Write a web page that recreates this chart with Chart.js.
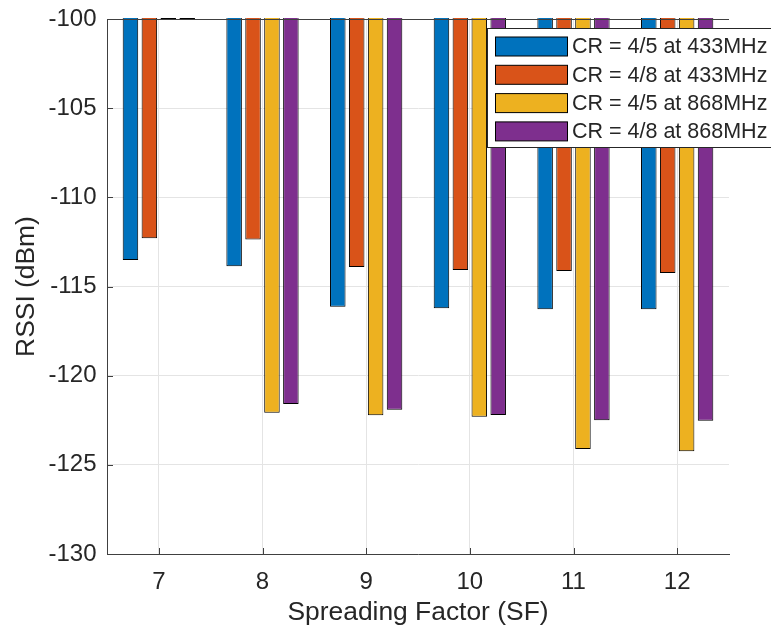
<!DOCTYPE html>
<html>
<head>
<meta charset="utf-8">
<script src="https://cdn.jsdelivr.net/npm/chart.js@4/dist/chart.umd.min.js"></script>
<style>
  html, body { margin: 0; padding: 0; background: #ffffff; }
  #wrap { width: 771px; height: 627px; }
</style>
</head>
<body>
<div id="wrap"><canvas id="rssi" width="771" height="627"></canvas></div>
<script>
// Spreading factors on the x axis
const spreadingFactors = ['7', '8', '9', '10', '11', '12'];

// Measured RSSI (dBm) per coding rate and carrier frequency
const cr45at433 = [-113.52, -113.86, -116.13, -116.22, -116.27, -116.27];
const cr48at433 = [-112.29, -112.37, -113.90, -114.07, -114.13, -114.24];
const cr45at868 = [-100.00, -122.08, -122.22, -122.30, -124.11, -124.24];
const cr48at868 = [-100.00, -121.59, -121.91, -122.20, -122.50, -122.53];

const seriesLabels = [
  'CR = 4/5 at 433MHz',
  'CR = 4/8 at 433MHz',
  'CR = 4/5 at 868MHz',
  'CR = 4/8 at 868MHz'
];
const seriesColors = ['#0072BD', '#D95319', '#EDB120', '#7E2F8E'];

// Axis range and tick spacing
const yMin = -130;
const yMax = -100;
const yStep = 5;

const FONT = "'Liberation Sans', Arial, Helvetica, sans-serif";
const AXIS_COLOR = '#404040';
const TEXT_COLOR = '#262626';
const GRID_COLOR = '#e4e4e4';

const seriesValues = [cr45at433, cr48at433, cr45at868, cr48at868];

const datasets = seriesValues.map((vals, i) => ({
  label: seriesLabels[i],
  data: vals,
  backgroundColor: seriesColors[i],
  borderColor: '#000000',
  borderWidth: 1,
  base: 0,               // bars hang from zero and are cut off by the plot box
  clip: { left: 0, right: 0, top: 1, bottom: 0 },
  categoryPercentage: 0.73,
  barPercentage: 0.82
}));

// Inward tick marks plus the top edge of the plot box
const boxTicks = {
  id: 'boxTicks',
  afterDraw(chart) {
    const { ctx, chartArea } = chart;
    const xs = chart.scales.x, ys = chart.scales.y;
    const len = 6;
    ctx.save();
    ctx.strokeStyle = AXIS_COLOR;
    ctx.lineWidth = 1;
    ctx.beginPath();
    ys.ticks.forEach((t, i) => {
      const y = Math.round(ys.getPixelForTick(i)) + 0.5;
      ctx.moveTo(chartArea.left, y);
      ctx.lineTo(chartArea.left + len, y);
    });
    xs.ticks.forEach((t, i) => {
      const x = Math.round(xs.getPixelForTick(i)) + 0.5;
      ctx.moveTo(x, chartArea.bottom);
      ctx.lineTo(x, chartArea.bottom - len);
    });
    const top = Math.round(chartArea.top) + 0.5;
    ctx.moveTo(chartArea.left, top);
    ctx.lineTo(chartArea.right, top);
    ctx.stroke();
    ctx.restore();
  }
};

// Boxed legend inside the upper right of the plot
const boxLegend = {
  id: 'boxLegend',
  afterDraw(chart) {
    const { ctx } = chart;
    const left = 487.5, top = 28.5, width = 320, height = 119;
    const rowY0 = 46.5, rowGap = 28.3;
    ctx.save();
    ctx.fillStyle = '#ffffff';
    ctx.fillRect(left, top, width, height);
    ctx.strokeStyle = TEXT_COLOR;
    ctx.lineWidth = 1;
    ctx.strokeRect(left, top, width, height);
    ctx.font = '21.5px ' + FONT;
    ctx.textBaseline = 'middle';
    ctx.textAlign = 'left';
    chart.data.datasets.forEach((ds, i) => {
      const cy = rowY0 + i * rowGap;
      ctx.fillStyle = ds.backgroundColor;
      ctx.fillRect(495.5, cy - 9.5, 72, 19);
      ctx.strokeStyle = '#000000';
      ctx.strokeRect(495.5, cy - 9.5, 72, 19);
      ctx.fillStyle = TEXT_COLOR;
      ctx.fillText(ds.label, 572, cy + 1);
    });
    ctx.restore();
  }
};

new Chart(document.getElementById('rssi'), {
  type: 'bar',
  data: { labels: spreadingFactors, datasets },
  options: {
    responsive: false,
    animation: false,
    devicePixelRatio: 1,
    layout: { padding: { top: 19, right: 42, left: 0, bottom: 0 } },
    plugins: {
      legend: { display: false },
      tooltip: { enabled: false }
    },
    scales: {
      x: {
        type: 'category',
        offset: true,
        grid: { offset: false, color: GRID_COLOR, drawTicks: false },
        border: { color: AXIS_COLOR, width: 1 },
        ticks: {
          color: TEXT_COLOR,
          font: { family: FONT, size: 24 },
          padding: 14,
          maxRotation: 0
        },
        title: {
          display: true,
          text: 'Spreading Factor (SF)',
          color: TEXT_COLOR,
          font: { family: FONT, size: 26.4, lineHeight: 1 },
          padding: { top: 0, bottom: 1 }
        },
        afterFit(scale) {
          scale.height = 73;
          scale.paddingLeft = 0;
          scale.paddingRight = 0;
        }
      },
      y: {
        min: yMin,
        max: yMax,
        grid: { color: GRID_COLOR, drawTicks: false },
        border: { color: AXIS_COLOR, width: 1 },
        ticks: {
          stepSize: yStep,
          color: TEXT_COLOR,
          font: { family: FONT, size: 24 },
          padding: 10.5
        },
        title: {
          display: true,
          text: 'RSSI (dBm)',
          color: TEXT_COLOR,
          font: { family: FONT, size: 26.4, lineHeight: 1 },
          padding: { top: 14, bottom: 0 }
        },
        afterFit(scale) {
          scale.width = 107;
          scale.paddingTop = 0;
          scale.paddingBottom = 0;
        }
      }
    }
  },
  plugins: [boxTicks, boxLegend]
});
</script>
</body>
</html>
